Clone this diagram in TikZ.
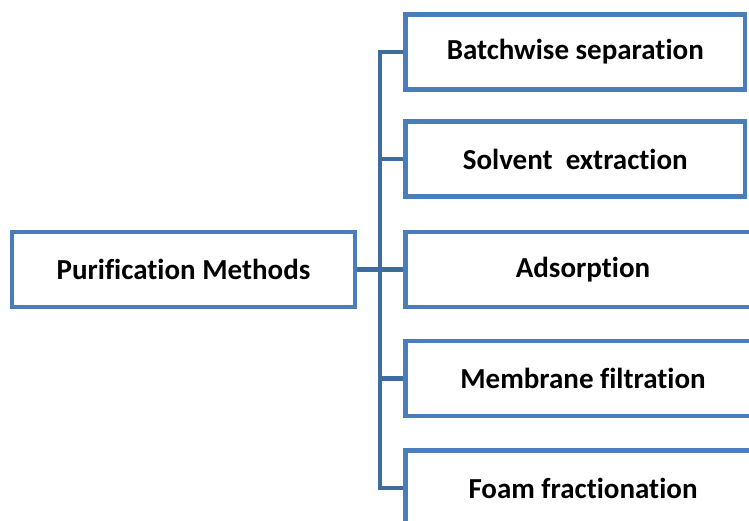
\documentclass[tikz,border=0pt]{standalone}
\usepackage{fontspec}
\setmainfont[Ligatures=NoCommon]{Carlito}
\definecolor{boxblue}{HTML}{4A7EBB}
\definecolor{linkblue}{HTML}{3F6C9F}
\begin{document}
\begin{tikzpicture}[x=1pt,y=-1pt,
        methodbox/.style={draw=boxblue, line width=4.5pt, fill=white, minimum height=75pt,
            inner sep=0pt, font=\fontsize{29}{34}\selectfont\bfseries},
        link/.style={draw=linkblue, line width=4.5pt}]
        \useasboundingbox (0,0) rectangle (749,520);
        \clip (0,0) rectangle (749,520);

        \node[methodbox, minimum width=343pt] (root) at (183.5,269.5) {Purification Methods};

        \node[methodbox, minimum width=339.5pt, anchor=west] (b1) at (403.25,52) {Batchwise separation};
        \node[methodbox, minimum width=339.5pt, anchor=west] (b2) at (403.25,159) {Solvent~ extraction};
        \node[methodbox, minimum width=355pt, anchor=west] (b3) at (403.25,269.5) {Adsorption};
        \node[methodbox, minimum width=355pt, anchor=west] (b4) at (403.25,378.5) {Membrane filtration};
        \node[methodbox, minimum width=355pt, anchor=west] (b5) at (403.25,488) {Foam fractionation};

        \coordinate (trunk) at (380,0);

        \draw[link] (b1.west) -- (b1.west -| trunk) -- (b5.west -| trunk) -- (b5.west);
        \draw[link] (b2.west) -- (b2.west -| trunk);
        \draw[link] (b4.west) -- (b4.west -| trunk);
        \draw[link] (root.east) -- (b3.west);
    \end{tikzpicture}
\end{document}
